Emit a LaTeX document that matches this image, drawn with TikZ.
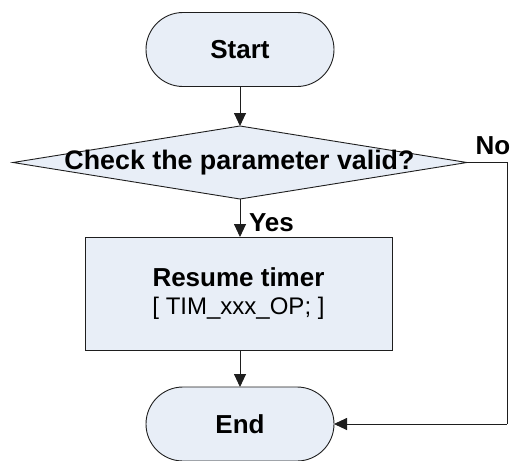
\documentclass[tikz,border=0pt]{standalone}
\usepackage{fontspec}
\setmainfont{Liberation Sans}
\usetikzlibrary{shapes.geometric,arrows.meta}
\definecolor{boxfill}{RGB}{232,238,247}
\definecolor{edge}{RGB}{30,30,30}
\begin{document}
\begin{tikzpicture}[x=1pt,y=1pt,
  every node/.style={inner sep=0pt,outer sep=0pt},
  lbl/.style={font=\fontsize{26}{30}\selectfont\bfseries},
  terminal/.style={draw=edge,fill=boxfill,line width=0.9pt,minimum width=188pt,minimum height=74pt,rounded corners=37pt,lbl},
  process/.style={draw=edge,fill=boxfill,line width=0.9pt,minimum width=307pt,minimum height=113pt,align=center},
  decision/.style={draw=edge,fill=boxfill,line width=0.9pt,diamond,minimum width=454pt,minimum height=73pt},
  flow/.style={draw=edge,line width=0.9pt,-{Triangle[length=13pt,width=12pt]}},
  line/.style={draw=edge,line width=0.9pt}]
\useasboundingbox (0,0) rectangle (512,-461);
% terminals, decision and process boxes
\node[terminal] (start) at (240,-49.5) {Start};
\node[decision] (check) at (240,-162.5) {};
\node[font=\fontsize{26.8}{30}\selectfont\bfseries] (checktxt) at (239.5,-163) {Check the parameter valid?};
\node[process] (resume) at (238.5,-293.5) {%
  {\fontsize{26}{30}\selectfont\bfseries Resume timer}\\[9pt]
  {\fontsize{24}{28}\selectfont [ TIM\_xxx\_OP; ]}};
\node[terminal] (end) at (240,-424) {End};
% corners of the "No" branch
\coordinate (corner1) at (507,-162.5);
\coordinate (corner2) at (507,-424);
% connectors
\draw[flow] (start) -- (check);
\draw[flow] (check) -- (check |- resume.north);
\draw[flow] (resume.south -| end) -- (end);
\draw[line] (check.east) -- (corner1) -- (corner2);
\draw[flow] (corner2) -- (end.east);
% branch labels
\node[lbl,anchor=west] (yes) at (249,-223) {Yes};
\node[lbl] (no) at (493,-146) {No};
\end{tikzpicture}
\end{document}
